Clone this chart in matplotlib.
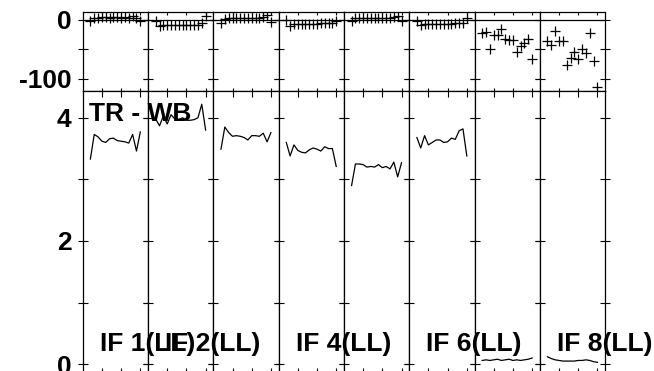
import matplotlib
matplotlib.use("Agg")
import matplotlib.pyplot as plt

plt.rcParams['font.family'] = ['Liberation Sans', 'DejaVu Sans']
plt.rcParams['font.weight'] = 'bold'

# channels plotted in every panel
chan = [2, 3, 4, 5, 6, 7, 8, 9, 10, 11, 12, 13, 14, 15]

# phase (deg), upper strip
ph_if1 = [-2, 3, 4, 5, 5, 4, 5, 5, 4, 5, 4, 6, 4, -1]
ph_if2 = [-1, -10, -8, -8, -8, -8, -8, -8, -8, -8, -8, -8, -6, 6]
ph_if3 = [-5, 2, 3, 4, 4, 4, 3, 4, 4, 4, 4, 5, 8, -3]
ph_if4 = [0, -11, -7, -7, -7, -7, -7, -7, -7, -6, -6, -6, -5, -1]
ph_if5 = [-2, 3, 4, 4, 3, 4, 4, 3, 4, 4, 4, 5, 6, -2]
ph_if6 = [-1, -8, -7, -7, -7, -7, -7, -7, -7, -7, -6, -6, -5, 3]
ph_if7 = [-22, -20, -49, -25, -25, -15, -33, -34, -34, -54, -45, -39, -33, -66]
ph_if8 = [-36, -42, -18, -36, -35, -76, -64, -54, -66, -50, -56, -22, -69, -114]

# amplitude, lower strip
amp_if1 = [3.33, 3.73, 3.69, 3.62, 3.60, 3.66, 3.67, 3.63, 3.62, 3.61, 3.59, 3.73, 3.46, 3.77]
amp_if2 = [3.98, 3.87, 4.03, 3.90, 4.05, 3.98, 3.97, 4.00, 3.96, 3.96, 3.97, 4.00, 4.22, 3.80]
amp_if3 = [3.49, 3.85, 3.76, 3.70, 3.71, 3.70, 3.68, 3.64, 3.71, 3.71, 3.70, 3.75, 3.61, 3.76]
amp_if4 = [3.60, 3.38, 3.56, 3.47, 3.44, 3.43, 3.48, 3.51, 3.49, 3.46, 3.53, 3.50, 3.50, 3.21]
amp_if5 = [2.90, 3.25, 3.25, 3.24, 3.20, 3.21, 3.20, 3.24, 3.19, 3.21, 3.17, 3.28, 3.04, 3.27]
amp_if6 = [3.68, 3.51, 3.71, 3.56, 3.60, 3.64, 3.64, 3.60, 3.61, 3.67, 3.65, 3.79, 3.82, 3.38]
amp_if7 = [0.06, 0.07, 0.06, 0.07, 0.08, 0.06, 0.07, 0.08, 0.06, 0.07, 0.06, 0.07, 0.08, 0.10]
amp_if8 = [0.12, 0.09, 0.07, 0.06, 0.05, 0.05, 0.05, 0.05, 0.06, 0.06, 0.07, 0.06, 0.04, 0.03]

phases = [ph_if1, ph_if2, ph_if3, ph_if4, ph_if5, ph_if6, ph_if7, ph_if8]
amps = [amp_if1, amp_if2, amp_if3, amp_if4, amp_if5, amp_if6, amp_if7, amp_if8]
if_labels = {0: 'IF 1(LL)', 1: 'IF 2(LL)', 3: 'IF 4(LL)', 5: 'IF 6(LL)', 7: 'IF 8(LL)'}

W, H = 654, 371
fig = plt.figure(figsize=(W / 100, H / 100), dpi=100)

x0, pw = 82.7, 65.3
top_y0, top_y1 = 11.7, 90.7
bot_y1 = 374.0
fs = 19

for i in range(8):
    left = (x0 + i * pw) / W
    # phase strip
    ax = fig.add_axes([left, 1 - top_y1 / H, pw / W, (top_y1 - top_y0) / H])
    ax.plot(chan, phases[i], ls='none', marker='+', color='black', ms=7, mew=0.9)
    ax.axhline(0, color='black', lw=0.9)
    ax.set_xlim(0, 17)
    ax.set_ylim(-120, 14)
    ax.set_xticks([5, 10, 15])
    ax.set_xticklabels([])
    ax.set_yticks([0, -50, -100])
    ax.tick_params(axis='x', direction='in', length=2.5, width=0.8, top=True, bottom=True)
    ax.tick_params(axis='y', direction='inout', length=7, width=0.8, left=True, right=True, pad=4.4)
    if i == 0:
        ax.set_yticklabels(['0', '', '-100'], fontsize=fs, fontweight='bold')
    else:
        ax.set_yticklabels([])
    for s in ax.spines.values():
        s.set_linewidth(0.9)

    # amplitude strip
    ax2 = fig.add_axes([left, 1 - bot_y1 / H, pw / W, (bot_y1 - top_y1) / H])
    ax2.plot(chan, amps[i], color='black', lw=0.9)
    ax2.set_xlim(0, 17)
    ax2.set_ylim(-0.16, 4.44)
    ax2.set_xticks([5, 10, 15])
    ax2.set_xticklabels([])
    ax2.set_yticks([0, 1, 2, 3, 4])
    ax2.tick_params(axis='x', direction='in', length=4, width=0.8, top=True, bottom=True)
    ax2.tick_params(axis='y', direction='inout', length=7, width=0.8, left=True, right=True, pad=4.4)
    if i == 0:
        ax2.set_yticklabels(['0', '', '2', '', '4'], fontsize=fs, fontweight='bold')
    else:
        ax2.set_yticklabels([])
    for s in ax2.spines.values():
        s.set_linewidth(0.9)

    if i in if_labels:
        fig.text((x0 + i * pw + 17.3) / W, 1 - 350.7 / H, if_labels[i],
                 fontsize=fs, fontweight='bold', va='baseline', ha='left')

fig.text(89 / W, 1 - 121 / H, 'TR - WB', fontsize=fs, fontweight='bold',
         va='baseline', ha='left')

fig.savefig('out.png', dpi=100)
